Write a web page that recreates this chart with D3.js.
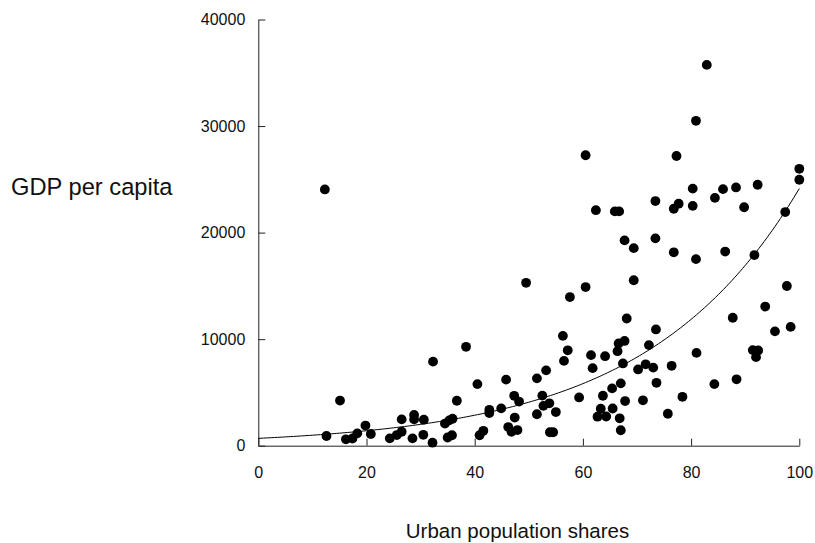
<!DOCTYPE html>
<html>
<head>
<meta charset="utf-8">
<script src="https://cdnjs.cloudflare.com/ajax/libs/d3/7.8.5/d3.min.js"></script>
<style>
  body { margin: 0; background: #fff; }
  svg { display: block; font-family: "Liberation Sans", Arial, sans-serif; }
</style>
</head>
<body>
<svg id="chart" width="815" height="543"></svg>
<script>
// urban population share (%) per country
const urbanShare = [
    12.3, 15.1, 12.6, 16.2, 17.4, 18.3, 19.8, 20.8, 24.3, 25.6,
    26.5, 26.5, 28.8, 28.8, 28.5, 30.6, 30.5, 32.2, 32.3, 34.5,
    35.3, 35.9, 35.0, 35.8, 36.7, 38.4, 40.5, 40.9, 41.6, 42.7,
    42.7, 44.9, 45.8, 47.3, 48.2, 46.2, 46.8, 47.9, 47.4, 49.5,
    51.5, 51.5, 53.2, 52.5, 52.7, 53.8, 55.0, 53.9, 54.5, 59.3,
    56.3, 57.2, 56.5, 57.6, 60.5, 60.5, 77.3, 82.9, 80.9, 100,
    100, 80.3, 85.9, 88.3, 92.3, 84.4, 73.4, 77.7, 76.8, 80.3,
    89.8, 97.4, 62.4, 65.9, 66.7, 67.7, 69.4, 73.4, 76.8, 80.9,
    86.3, 91.7, 97.7, 93.7, 87.7, 95.5, 98.4, 69.4, 68.1, 73.5,
    81.0, 66.6, 67.7, 66.4, 61.5, 64.1, 61.8, 67.4, 72.2, 70.2,
    71.6, 73.0, 76.4, 73.6, 67.0, 65.4, 63.7, 67.8, 71.1, 78.4,
    63.3, 65.5, 62.7, 64.3, 66.8, 75.7, 67.0, 91.4, 92.4, 92.0,
    88.4, 84.3
];

// GDP per capita, same order
const gdpPerCapita = [
    24050, 4235, 910, 600, 675, 1160, 1890, 1100, 690, 1000,
    1310, 2470, 2880, 2470, 690, 2440, 1020, 280, 7890, 2080,
    2380, 2530, 770, 980, 4220, 9280, 5780, 980, 1400, 3370,
    3060, 3500, 6200, 4680, 4140, 1750, 1300, 1470, 2640, 15290,
    6320, 2950, 7070, 4700, 3740, 3980, 3160, 1260, 1260, 4530,
    10310, 8950, 7960, 13950, 14890, 27260, 27190, 35740, 30490, 25990,
    24960, 24130, 24080, 24240, 24490, 23260, 22960, 22710, 22240, 22510,
    22380, 21930, 22100, 21990, 21990, 19270, 18540, 19460, 18150, 17510,
    18220, 17890, 14990, 13060, 12010, 10730, 11150, 15530, 11940, 10910,
    8710, 9600, 9830, 8870, 8500, 8400, 7280, 7720, 9440, 7160,
    7640, 7330, 7500, 5900, 5850, 5380, 4690, 4190, 4260, 4590,
    3470, 3490, 2720, 2740, 2570, 3000, 1450, 8970, 8940, 8310,
    6230, 5780
];

const xTicks = [0, 20, 40, 60, 80, 100];
const yTicks = [0, 10000, 20000, 30000, 40000];

// exponential fit gdp = a * exp(b * urban)
const fitA = 690;
const fitB = 0.03555;

const svg = d3.select('#chart');

const x = d3.scaleLinear().domain([0, 100]).range([258.3, 799.3]);
const y = d3.scaleLinear().domain([0, 40000]).range([445.7, 19.5]);

// axes, ticks point inward
const xAxis = svg.append('g')
    .attr('transform', 'translate(0,' + y(0) + ')')
    .call(d3.axisBottom(x).tickValues(xTicks).tickSize(-7).tickPadding(21).tickSizeOuter(0));

const yAxis = svg.append('g')
    .attr('transform', 'translate(' + x(0) + ',0)')
    .call(d3.axisLeft(y).tickValues(yTicks).tickSize(-7).tickPadding(13).tickSizeOuter(0)
        .tickFormat(d3.format('d')));

[xAxis, yAxis].forEach(function (g) {
    g.select('.domain').attr('stroke', '#222');
    g.selectAll('.tick line').attr('stroke', '#222');
    g.selectAll('.tick text')
        .attr('fill', '#111')
        .style('font-size', '16px')
        .style('font-family', '"Liberation Sans", Arial, sans-serif');
});

// fitted curve
const fitLine = d3.line()
    .x(function (d) { return x(d) })
    .y(function (d) { return y(fitA * Math.exp(fitB * d)) });

svg.append('path')
    .datum(d3.range(0, 100.5, 0.5))
    .attr('d', fitLine)
    .attr('fill', 'none')
    .attr('stroke', '#000')
    .attr('stroke-width', 1);

// points
svg.append('g')
    .selectAll('circle')
    .data(urbanShare)
    .enter()
    .append('circle')
    .attr('cx', function (d) { return x(d) })
    .attr('cy', function (d, i) { return y(gdpPerCapita[i]) })
    .attr('r', 4.9)
    .attr('fill', '#000');

// axis titles
svg.append('text')
    .attr('x', 11)
    .attr('y', 195)
    .attr('fill', '#111')
    .style('font-size', '23.7px')
    .text('GDP per capita');

svg.append('text')
    .attr('x', 517.5)
    .attr('y', 537.5)
    .attr('text-anchor', 'middle')
    .attr('fill', '#111')
    .style('font-size', '20.5px')
    .text('Urban population shares');
</script>
</body>
</html>
